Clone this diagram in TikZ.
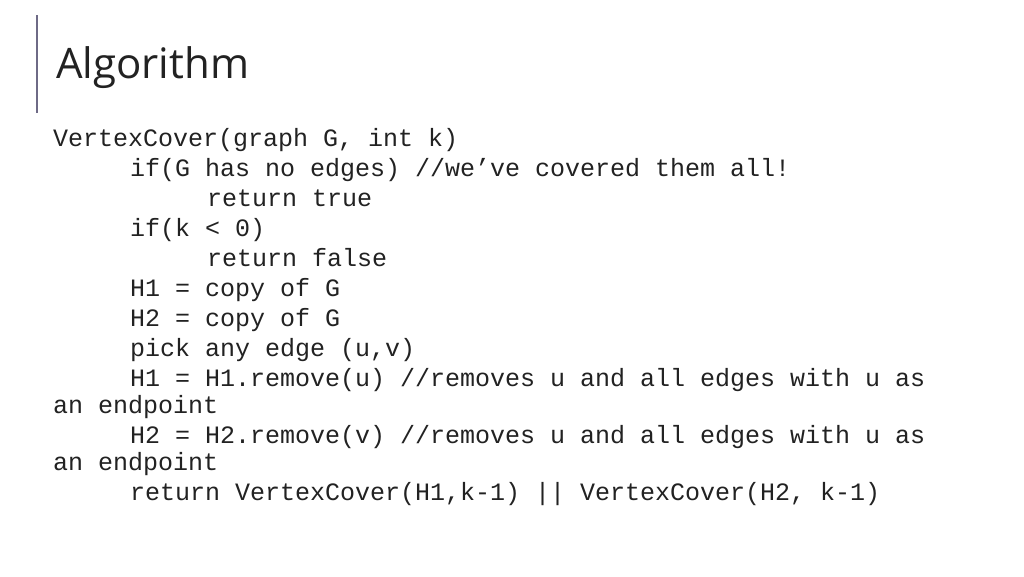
\documentclass[tikz,border=0pt]{standalone}
\usepackage{fontspec}
\setmainfont{Open Sans}
\newfontfamily\codefont{Liberation Mono}
\definecolor{barc}{HTML}{6E6A86}
\definecolor{txt}{HTML}{222222}
\begin{document}
\begin{tikzpicture}[x=1pt,y=-1pt,
  code/.style={anchor=base west,inner sep=0pt,font=\codefont\fontsize{25}{28}\selectfont,text=txt}]
\useasboundingbox[fill=white] (0,0) rectangle (1024,576);
\draw[barc,line width=2pt] (37,15) -- (37,113);
\node[anchor=base west,inner sep=0pt,font=\fontsize{42}{44}\selectfont,text=txt] (title) at (56,78) {Algorithm};
\node[code] (l1) at (53,146) {VertexCover(graph G, int k)};
\node[code] (l2) at (130,176) {if(G has no edges) //we’ve covered them all!};
\node[code] (l3) at (207,206) {return true};
\node[code] (l4) at (130,236) {if(k < 0)};
\node[code] (l5) at (207,266) {return false};
\node[code] (l6) at (130,296) {H1 = copy of G};
\node[code] (l7) at (130,326) {H2 = copy of G};
\node[code] (l8) at (130,356) {pick any edge (u,v)};
\node[code] (l9) at (130,386) {H1 = H1.remove(u) //removes u and all edges with u as};
\node[code] (l10) at (53,413) {an endpoint};
\node[code] (l11) at (130,443) {H2 = H2.remove(v) //removes u and all edges with u as};
\node[code] (l12) at (53,470) {an endpoint};
\node[code] (l13) at (130,500) {return VertexCover(H1,k-1) || VertexCover(H2, k-1)};
\end{tikzpicture}
\end{document}
